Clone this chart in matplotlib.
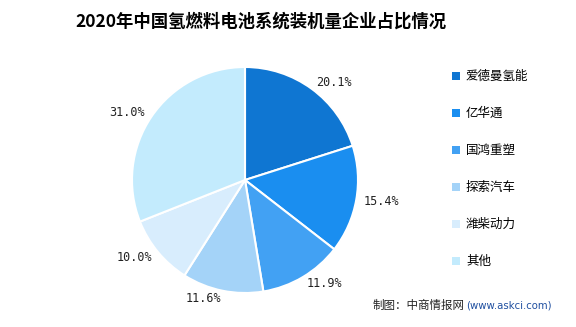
import matplotlib.pyplot as plt
from matplotlib.patches import Patch

plt.rcParams['font.family'] = ['Noto Sans CJK SC', 'DejaVu Sans']

companies = ['爱德曼氢能', '亿华通', '国鸿重塑', '探索汽车', '潍柴动力', '其他']
shares = [20.1, 15.4, 11.9, 11.6, 10.0, 31.0]
colors = ['#0f76d2', '#1a8ef0', '#42a1f3', '#a4d3f8', '#d8edfd', '#c3ebfd']
pct_labels = ['%.1f%%' % v for v in shares]

fig = plt.figure(figsize=(5.76, 3.27), dpi=100)

# pie: centre ~(245,180) px, radius ~113 px
ax = fig.add_axes([(245 - 113) / 576, 1 - (180 + 113) / 327, 226 / 576, 226 / 327])
wedges, texts = ax.pie(shares, labels=pct_labels, colors=colors, startangle=90,
                       counterclock=False, labeldistance=1.07,
                       wedgeprops=dict(edgecolor='white', linewidth=1.5),
                       textprops=dict(family='DejaVu Sans Mono', fontsize=8.5, color='#222222'))
ax.set_xlim(-1, 1)
ax.set_ylim(-1, 1)
ax.set_aspect('equal')

handles = [Patch(facecolor=c, edgecolor='none') for c in colors]
fig.legend(handles, companies, loc='upper left', bbox_to_anchor=(441 / 576, 1 - 59 / 327),
           frameon=False, fontsize=9, handlelength=0.6, handleheight=0.6,
           handletextpad=0.5, labelspacing=1.92)

fig.text(261 / 576, 1 - 22 / 327, '2020年中国氢燃料电池系统装机量企业占比情况', ha='center', va='center',
         fontsize=12.5, fontweight='bold', color='black')

fig.text(373 / 576, 1 - 305 / 327, '制图：中商情报网', ha='left', va='center', fontsize=8.3, color='#222222')
fig.text(466 / 576, 1 - 305 / 327, '(www.askci.com)', ha='left', va='center', fontsize=7.3,
         color='#1f4fa0', family='DejaVu Sans')

fig.savefig('out.png', dpi=100)
